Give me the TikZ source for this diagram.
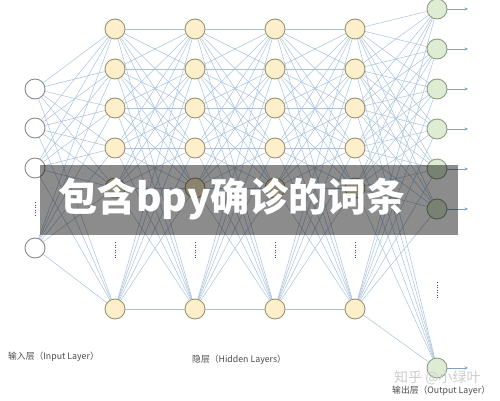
\documentclass[tikz,border=0pt]{standalone}
\usepackage{fontspec}
\newfontfamily\cjk{Noto Sans CJK SC}
\usetikzlibrary{arrows.meta,backgrounds}
\definecolor{edgec}{HTML}{A8C2DB}
\definecolor{hidfill}{HTML}{FCEFC9}
\definecolor{hiddraw}{HTML}{9C9272}
\definecolor{outfill}{HTML}{DDECD3}
\definecolor{outdraw}{HTML}{8E9C84}
\definecolor{indraw}{HTML}{8A8A8A}
\definecolor{labc}{HTML}{4A4A4A}
\definecolor{arrc}{HTML}{7FA2C6}
\tikzset{
  neuron/.style={circle, minimum size=20pt, inner sep=0pt, line width=0.9pt},
  inneuron/.style={neuron, draw=indraw, fill=white},
  hidneuron/.style={neuron, draw=hiddraw, fill=hidfill},
  outneuron/.style={neuron, draw=outdraw, fill=outfill},
  wire/.style={draw=edgec, line width=0.5pt},
  outarrow/.style={draw=arrc, line width=0.5pt, -{Stealth[length=3.5pt,width=3pt]}},
  vdots/.style={draw=labc, line width=0.9pt, dash pattern=on 0.9pt off 1.6pt},
  layerlabel/.style={font=\cjk\fontsize{8.8}{10}\selectfont, text=labc, inner sep=0pt, anchor=west},
  banner/.style={fill=black, fill opacity=0.45, draw=none},
  bannertext/.style={font=\cjk\bfseries\fontsize{39}{42}\selectfont, text=white, inner sep=0pt},
  watermark/.style={font=\cjk\fontsize{14}{15}\selectfont, text=black!20, inner sep=0pt, anchor=west}
}
\begin{document}
\begin{tikzpicture}[x=1pt,y=-1pt]
\useasboundingbox (0,0) rectangle (500,401);
% input layer
\foreach \i/\y in {1/89,2/128,3/168,4/248} \node[inneuron] (i\i) at (35,\y) {};
% hidden layers
\foreach \l/\x in {1/115,2/195,3/275,4/355}{
  \foreach \j/\y in {1/29,2/69,3/108,4/148,5/188,6/309} \node[hidneuron] (h\l-\j) at (\x,\y) {};
}
% output layer
\foreach \k/\y in {1/9,2/49,3/89,4/129,5/169,6/209,7/368} \node[outneuron] (o\k) at (437,\y) {};
\foreach \k/\y in {1/9,2/49,3/89,4/129,5/169,6/209,7/368} \coordinate (oa\k) at (468,\y);
% edges
\begin{scope}[on background layer]
\foreach \i in {1,...,4}{\foreach \j in {1,...,6}{\draw[wire] (i\i) -- (h1-\j);}}
\foreach \l/\m in {1/2,2/3,3/4}{
  \foreach \i in {1,...,6}{\foreach \j in {1,...,6}{\draw[wire] (h\l-\i) -- (h\m-\j);}}
}
\foreach \i in {1,...,6}{\foreach \k in {1,...,7}{\draw[wire] (h4-\i) -- (o\k);}}
\end{scope}
\foreach \k in {1,...,7}{\draw[outarrow] (o\k) -- (oa\k);}
% ellipsis dots
\draw[vdots] (35,202) -- (35,217);
\foreach \x in {115,195,275,355} \draw[vdots] (\x,242) -- (\x,258);
\draw[vdots] (437,282) -- (437,298);
% labels
\node[layerlabel] (linput) at (8,357) {输入层（Input Layer）};
\node[layerlabel] (lhidden) at (192,360) {隐层（Hidden Layers）};
\node[watermark] (wm) at (394,378) {知乎 @小绿叶};
\node[layerlabel] (loutput) at (392,391) {输出层（Output Layer）};
% banner
\fill[banner] (40,165) rectangle (458,235);
\node[bannertext, anchor=west] (btitle) at (58,199) {包含bpy确诊的词条};
\end{tikzpicture}
\end{document}
